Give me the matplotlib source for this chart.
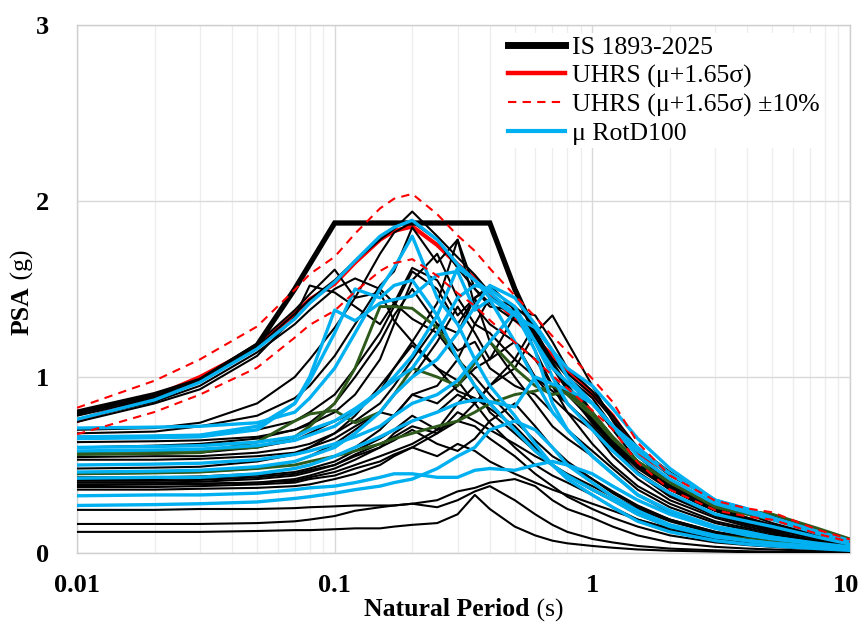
import matplotlib
matplotlib.use("Agg")
import matplotlib.pyplot as plt
import matplotlib.transforms as mtransforms
from matplotlib.ticker import FixedLocator, NullFormatter, LogLocator

# ---------------- data ----------------
T = [0.01, 0.02, 0.03, 0.05, 0.07, 0.08, 0.1, 0.12, 0.15, 0.17, 0.2, 0.25, 0.3, 0.35,
     0.4, 0.5, 0.6, 0.7, 0.8, 1.0, 1.2, 1.5, 2, 3, 4, 5, 7.5, 10]

code_T = [0.01, 0.02, 0.03, 0.05, 0.07, 0.1, 0.4, 0.5, 0.6, 0.7, 0.8, 1, 1.2, 1.5, 2,
          2.5, 3, 4, 5, 6, 7.5, 10]
code_sa = [0.80, 0.90, 0.98, 1.18, 1.50, 1.875, 1.875, 1.5, 1.25, 1.07, 0.94, 0.75,
           0.625, 0.5, 0.375, 0.30, 0.25, 0.1875, 0.12, 0.083, 0.053, 0.03]

uhrs = [0.75, 0.89, 1.0, 1.17, 1.36, 1.44, 1.53, 1.65, 1.78, 1.83, 1.855, 1.75, 1.64,
        1.56, 1.47, 1.33, 1.22, 1.12, 1.04, 0.90, 0.78, 0.57, 0.40, 0.27, 0.23, 0.21,
        0.12, 0.07]
uhrs_hi = [v * 1.1 for v in uhrs]
uhrs_lo = [v * 0.9 for v in uhrs]

black_records = [
    [0.79,0.89,0.99,1.19,1.38,1.47,1.61,1.45,1.48,1.32,1.2,1.05,0.98,0.85,0.74,0.6,0.5,0.44,0.4,0.33,0.26,0.19,0.13,0.08,0.06,0.045,0.028,0.018],
    [0.78,0.88,0.98,1.17,1.36,1.44,1.55,1.66,1.78,1.84,1.94,1.80,1.68,1.58,1.48,1.35,1.22,1.10,1.02,0.90,0.76,0.58,0.44,0.30,0.25,0.21,0.12,0.07],
    [0.76,0.86,0.95,1.14,1.30,1.38,1.50,1.56,1.50,1.42,1.33,1.25,1.10,1.0,0.9,0.75,0.64,0.55,0.5,0.42,0.35,0.27,0.19,0.12,0.09,0.07,0.045,0.03],
    [0.745,0.85,0.93,1.12,1.34,1.52,1.48,1.4,1.30,1.42,1.62,1.55,1.35,1.45,1.2,1.0,0.85,0.72,0.65,0.55,0.45,0.33,0.23,0.14,0.1,0.08,0.05,0.03],
    [0.70,0.71,0.74,0.85,1.0,1.1,1.28,1.45,1.7,1.82,1.88,1.78,1.62,1.50,1.42,1.32,1.25,1.10,1.0,0.88,0.72,0.55,0.40,0.26,0.22,0.17,0.10,0.06],
    [0.68,0.69,0.72,0.78,0.88,0.95,1.12,1.3,1.52,1.6,1.85,1.65,1.78,1.5,1.4,1.38,1.2,1.05,0.95,0.8,0.66,0.5,0.36,0.24,0.18,0.14,0.08,0.05],
    [0.66,0.665,0.67,0.7,0.75,0.8,0.9,1.05,1.25,1.4,1.6,1.5,1.3,1.45,1.5,1.4,1.3,1.15,1.0,0.85,0.7,0.52,0.38,0.25,0.2,0.15,0.09,0.05],
    [0.63,0.635,0.64,0.66,0.7,0.73,0.8,0.9,1.1,1.3,1.55,1.7,1.45,1.3,1.25,1.1,1.0,0.92,0.85,0.7,0.55,0.42,0.3,0.2,0.15,0.12,0.07,0.04],
    [0.60,0.61,0.62,0.65,0.7,0.74,0.85,1.0,1.2,1.35,1.5,1.3,1.15,1.2,1.05,0.95,0.9,0.8,0.7,0.58,0.48,0.36,0.26,0.17,0.13,0.1,0.06,0.035],
    [0.56,0.565,0.57,0.6,0.64,0.68,0.75,0.8,0.92,1.05,1.2,1.42,1.78,1.4,1.3,1.2,1.1,0.95,0.85,0.72,0.6,0.45,0.32,0.21,0.16,0.13,0.08,0.045],
    [0.545,0.55,0.55,0.57,0.6,0.62,0.68,0.75,0.85,0.95,1.1,1.3,1.25,1.45,1.52,1.38,1.35,1.2,1.05,0.92,0.78,0.6,0.46,0.3,0.24,0.2,0.12,0.07],
    [0.53,0.53,0.535,0.55,0.57,0.6,0.65,0.72,0.8,0.78,0.9,0.85,0.95,1.05,1.1,1.2,1.0,0.88,0.8,0.7,0.6,0.46,0.34,0.22,0.17,0.14,0.08,0.05],
    [0.48,0.485,0.49,0.52,0.56,0.6,0.68,0.78,0.95,1.05,1.18,1.05,0.92,0.88,0.82,0.72,0.6,0.5,0.44,0.36,0.3,0.22,0.15,0.09,0.07,0.055,0.035,0.02],
    [0.45,0.455,0.46,0.48,0.52,0.55,0.62,0.7,0.8,0.9,1.0,1.2,1.4,1.25,1.1,1.35,1.25,1.0,0.9,0.75,0.62,0.48,0.36,0.24,0.19,0.15,0.09,0.05],
    [0.43,0.43,0.435,0.45,0.48,0.5,0.55,0.6,0.7,0.78,0.9,0.95,1.1,1.3,1.45,1.4,1.15,0.95,0.8,0.62,0.5,0.38,0.28,0.18,0.14,0.11,0.065,0.04],
    [0.42,0.42,0.425,0.44,0.46,0.48,0.52,0.58,0.65,0.7,0.78,0.7,0.75,0.85,0.95,1.05,1.25,1.35,1.2,0.95,0.75,0.55,0.4,0.26,0.2,0.16,0.1,0.06],
    [0.41,0.41,0.415,0.43,0.45,0.47,0.5,0.55,0.6,0.68,0.75,0.8,0.9,0.85,0.95,1.1,1.3,1.15,1.0,0.8,0.62,0.45,0.33,0.22,0.17,0.14,0.085,0.05],
    [0.40,0.40,0.405,0.42,0.44,0.46,0.5,0.56,0.62,0.66,0.72,0.68,0.8,0.75,0.7,0.62,0.55,0.5,0.45,0.38,0.32,0.25,0.18,0.11,0.085,0.07,0.04,0.025],
    [0.39,0.39,0.395,0.4,0.42,0.44,0.48,0.53,0.6,0.64,0.7,0.62,0.58,0.65,0.75,0.85,0.72,0.6,0.52,0.42,0.34,0.26,0.19,0.12,0.09,0.07,0.045,0.028],
    [0.385,0.39,0.39,0.4,0.41,0.43,0.46,0.5,0.55,0.58,0.62,0.7,0.85,0.95,0.8,0.68,0.58,0.5,0.44,0.36,0.3,0.23,0.16,0.1,0.075,0.06,0.035,0.022],
    [0.375,0.375,0.38,0.39,0.4,0.42,0.44,0.48,0.52,0.56,0.6,0.55,0.62,0.58,0.52,0.45,0.4,0.36,0.33,0.28,0.24,0.19,0.14,0.09,0.07,0.055,0.035,0.02],
    [0.36,0.36,0.365,0.37,0.38,0.39,0.42,0.45,0.5,0.55,0.6,0.68,0.75,0.72,0.65,0.55,0.45,0.38,0.32,0.25,0.2,0.15,0.1,0.06,0.045,0.035,0.022,0.014],
    [0.245,0.245,0.25,0.25,0.255,0.26,0.265,0.27,0.27,0.27,0.28,0.3,0.35,0.37,0.4,0.42,0.38,0.3,0.25,0.2,0.15,0.1,0.06,0.035,0.025,0.02,0.012,0.008],
    [0.165,0.165,0.165,0.17,0.18,0.19,0.21,0.24,0.26,0.27,0.28,0.26,0.3,0.35,0.38,0.3,0.22,0.16,0.12,0.08,0.06,0.04,0.025,0.015,0.01,0.008,0.005,0.003],
    [0.12,0.12,0.12,0.125,0.13,0.13,0.135,0.14,0.14,0.15,0.16,0.17,0.22,0.33,0.25,0.15,0.1,0.07,0.055,0.04,0.03,0.02,0.013,0.008,0.005,0.004,0.003,0.002],
]

blue_records = [
    [0.76,0.87,0.97,1.16,1.33,1.42,1.54,1.66,1.8,1.85,1.89,1.78,1.64,1.55,1.48,1.36,1.2,1.05,0.97,0.85,0.72,0.55,0.42,0.28,0.23,0.19,0.11,0.06],
    [0.71,0.715,0.72,0.74,0.8,0.88,1.05,1.25,1.5,1.62,1.8,1.45,1.3,1.1,0.95,0.78,0.62,0.5,0.42,0.33,0.26,0.18,0.12,0.07,0.05,0.04,0.025,0.015],
    [0.65,0.655,0.66,0.7,0.85,1.0,1.38,1.32,1.42,1.44,1.46,1.58,1.6,1.38,1.44,1.2,0.98,0.8,0.7,0.55,0.45,0.33,0.24,0.15,0.11,0.09,0.05,0.03],
    [0.60,0.605,0.61,0.63,0.66,0.7,0.75,0.82,0.92,0.98,1.05,1.25,1.45,1.52,1.5,1.4,1.2,1.0,0.85,0.7,0.58,0.45,0.34,0.22,0.18,0.15,0.09,0.05],
    [0.50,0.505,0.51,0.53,0.56,0.58,0.62,0.66,0.72,0.78,0.85,0.9,0.98,1.1,1.2,1.37,1.15,0.85,0.7,0.55,0.45,0.33,0.24,0.15,0.12,0.09,0.055,0.035],
    [0.46,0.465,0.47,0.49,0.52,0.55,0.6,0.68,0.8,0.9,1.0,1.1,1.25,1.4,1.52,1.45,1.3,1.15,1.0,0.85,0.72,0.58,0.45,0.3,0.25,0.2,0.12,0.07],
    [0.425,0.43,0.43,0.45,0.48,0.5,0.55,0.6,0.66,0.7,0.75,0.8,0.85,0.87,0.86,0.83,1.0,0.96,0.93,0.85,0.72,0.6,0.45,0.3,0.24,0.2,0.12,0.07],
    [0.325,0.33,0.33,0.34,0.36,0.37,0.38,0.4,0.43,0.45,0.45,0.43,0.43,0.47,0.48,0.47,0.5,0.52,0.5,0.45,0.38,0.3,0.22,0.14,0.1,0.08,0.05,0.03],
    [0.27,0.275,0.28,0.29,0.31,0.32,0.34,0.36,0.38,0.4,0.42,0.48,0.55,0.6,0.7,0.75,0.7,0.6,0.5,0.4,0.32,0.24,0.16,0.1,0.07,0.055,0.035,0.02],
    [0.66,0.665,0.67,0.72,0.85,0.98,1.25,1.5,1.45,1.52,1.55,1.35,1.1,0.95,0.85,0.7,0.58,0.5,0.44,0.36,0.3,0.22,0.15,0.09,0.07,0.055,0.035,0.02],
    [0.58,0.585,0.59,0.61,0.64,0.67,0.72,0.8,0.92,1.0,1.12,1.35,1.62,1.55,1.45,1.35,1.28,1.15,1.05,0.95,0.82,0.65,0.48,0.3,0.25,0.2,0.12,0.065],
]

green_records = [
    [0.575,0.58,0.585,0.6,0.66,0.72,0.85,1.05,1.4,1.4,1.39,1.28,1.11,0.95,0.85,0.7,0.58,0.5,0.44,0.36,0.3,0.22,0.15,0.1,0.08,0.065,0.045,0.03],
    [0.56,0.565,0.57,0.63,0.75,0.79,0.81,0.74,0.8,0.9,1.05,1.0,0.95,1.08,1.2,1.05,0.95,0.9,0.92,0.8,0.66,0.52,0.4,0.26,0.22,0.19,0.12,0.075],
    [0.45,0.455,0.46,0.48,0.5,0.52,0.55,0.58,0.62,0.65,0.68,0.72,0.75,0.8,0.85,0.9,0.92,0.95,0.9,0.78,0.65,0.52,0.4,0.27,0.24,0.22,0.14,0.08],
]

x_ticks = [0.01, 0.1, 1, 10]
x_tick_labels = ["0.01", "0.1", "1", "10"]
y_ticks = [0, 1, 2, 3]
y_tick_labels = ["0", "1", "2", "3"]
legend_labels = ["IS 1893-2025", "UHRS (\u03bc+1.65\u03c3)", "UHRS (\u03bc+1.65\u03c3) \u00b110%", "\u03bc RotD100"]

# ---------------- figure ----------------
SERIF = ["Liberation Serif", "DejaVu Serif"]
plt.rcParams["font.family"] = SERIF

W, H = 861, 624
fig = plt.figure(figsize=(W / 100, H / 100), dpi=100)
ax = fig.add_axes([77 / W, 1 - 553 / H, (850 - 77) / W, (553 - 25) / H])

BLUE = "#00B0F0"
GREEN = "#2D5A1B"

h_code, = ax.plot(code_T, code_sa, color="black", lw=3.8, zorder=3, solid_joinstyle="miter")
h_uhrs, = ax.plot(T, uhrs, color="red", lw=3.0, zorder=2.8)
for rec in black_records:
    ax.plot(T, rec, color="black", lw=1.5, zorder=3.2)
for rec in green_records:
    ax.plot(T, rec, color=GREEN, lw=2.1, zorder=3.4)
h_blue = None
for rec in blue_records:
    h_blue, = ax.plot(T, rec, color=BLUE, lw=2.4, zorder=3.6)
h_dash, = ax.plot(T, uhrs_hi, color="red", lw=1.5, ls=(0, (4, 3)), zorder=4)
ax.plot(T, uhrs_lo, color="red", lw=1.5, ls=(0, (4, 3)), zorder=4)

ax.set_xscale("log")
ax.set_xlim(0.01, 10)
ax.set_ylim(0, 3)
ax.xaxis.set_major_locator(FixedLocator(x_ticks))
ax.set_xticklabels(x_tick_labels)
ax.xaxis.set_minor_locator(LogLocator(base=10, subs=range(2, 10)))
ax.xaxis.set_minor_formatter(NullFormatter())
ax.set_yticks(y_ticks)
ax.set_yticklabels(y_tick_labels)

ax.grid(True, which="major", axis="both", color="#D9D9D9", lw=1.0, zorder=0)
ax.grid(True, which="minor", axis="x", color="#EDEDED", lw=0.9, zorder=0)
ax.set_axisbelow(True)
for s in ax.spines.values():
    s.set_color("#CFCFCF")
    s.set_linewidth(1.0)
ax.tick_params(which="both", length=0)
ax.tick_params(axis="x", pad=15)
ax.tick_params(axis="y", pad=20)
for lab in ax.get_xticklabels() + ax.get_yticklabels():
    lab.set_fontsize(19)
    lab.set_fontweight("bold")
# keep the last x label inside the canvas
last = ax.get_xticklabels()[-1]
last.set_transform(last.get_transform() +
                   mtransforms.ScaledTranslation(-4 / 100, 0, fig.dpi_scale_trans))

leg = ax.legend([h_code, h_uhrs, h_dash, h_blue], legend_labels,
                loc="upper left", bbox_to_anchor=((505 - 77) / 773, (553 - 33) / 528),
                fontsize=18.5, frameon=True, fancybox=False, borderpad=0.1,
                borderaxespad=0, handlelength=2.25, handletextpad=0.25,
                labelspacing=0.22)
leg.get_frame().set_edgecolor("none")
leg.get_frame().set_facecolor("white")
leg.get_frame().set_alpha(1)
leg.set_zorder(10)
leg.get_lines()[0].set_linewidth(5)
leg.get_lines()[1].set_linewidth(3.2)
leg.get_lines()[3].set_linewidth(3.0)

# axis titles with mixed weights
fig.canvas.draw()
r = fig.canvas.get_renderer()
xc = (77 + 850) / 2
t1 = fig.text(0, 0, "Natural Period", fontsize=18.5, fontweight="bold", ha="left", va="center")
t2 = fig.text(0, 0, " (s)", fontsize=18.5, ha="left", va="center")
w1 = t1.get_window_extent(r).width
w2 = t2.get_window_extent(r).width
x0 = xc - (w1 + w2) / 2
yl = 1 - 610 / H
t1.set_position((x0 / W, yl))
t2.set_position(((x0 + w1) / W, yl))

yc_top = 292
u1 = fig.text(0, 0, "PSA", fontsize=18.5, fontweight="bold", rotation=90, ha="center", va="bottom")
u2 = fig.text(0, 0, " (g)", fontsize=18.5, rotation=90, ha="center", va="bottom")
h1 = u1.get_window_extent(r).height
h2 = u2.get_window_extent(r).height
xl = 22 / W
y0b = (H - yc_top) - (h1 + h2) / 2
u1.set_position((xl, y0b / H))
u2.set_position((xl, (y0b + h1) / H))

fig.savefig("out.png", dpi=100)
